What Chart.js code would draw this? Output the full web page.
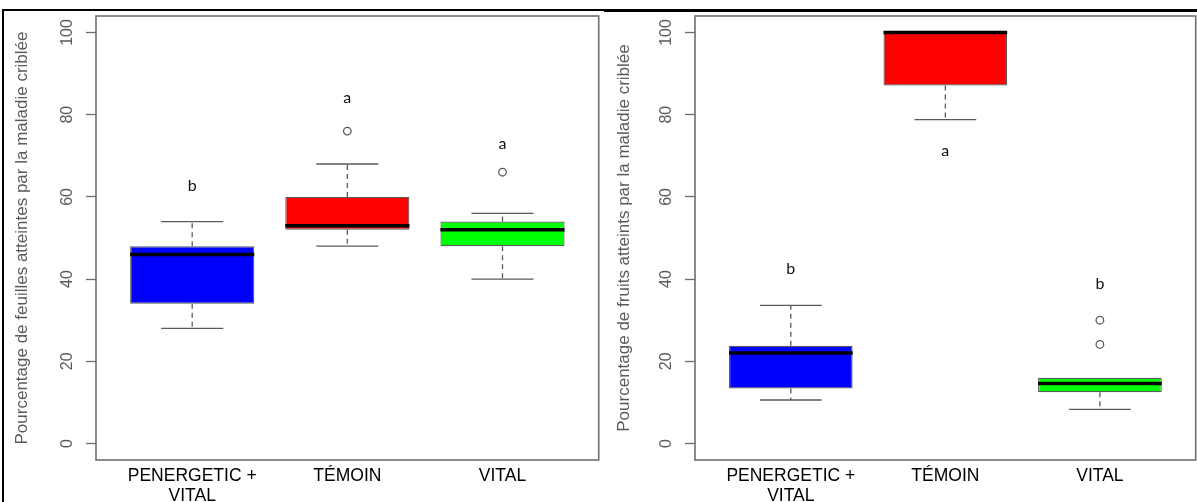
<!DOCTYPE html>
<html lang="fr">
<head>
<meta charset="utf-8">
<title>Maladie criblée – feuilles et fruits</title>
<script src="https://cdn.jsdelivr.net/npm/chart.js@4/dist/chart.umd.min.js"></script>
<style>
  html, body { margin: 0; padding: 0; background: #fff; overflow: hidden; }
  body { width: 1197px; height: 502px; position: relative; }
  canvas { position: absolute; top: 0; }
  #chartFeuilles { left: 0; }
  #chartFruits { left: 604px; }
  .edge { position: absolute; background: #000; }
</style>
</head>
<body>
<canvas id="chartFeuilles" width="604" height="502"></canvas>
<canvas id="chartFruits" width="597" height="502"></canvas>
<div class="edge" style="left:2px;top:9px;width:2px;height:493px"></div>
<div class="edge" style="left:2px;top:9px;width:602px;height:2px"></div>
<div class="edge" style="left:604px;top:9px;width:593px;height:3px"></div>
<script>
'use strict';

// ── DATA ─────────────────────────────────────────────────────

const CATEGORIES = [['PENERGETIC +', 'VITAL'], 'TÉMOIN', 'VITAL'];
const BOX_COLORS = ['#0000ff', '#ff0000', '#00ff00'];
const Y_TICKS    = [0, 20, 40, 60, 80, 100];

// feuilles atteintes
const leafLow      = [28, 48, 40];
const leafQ1       = [34, 52, 48];
const leafMedian   = [46, 53, 52];
const leafQ3       = [48, 60, 54];
const leafHigh     = [54, 68, 56];
const leafOutliers = [[], [76], [66]];
const leafGroups   = ['b', 'a', 'a'];
const leafGroupY   = [62.6, 84, 73];

// fruits atteints
const fruitLow      = [10.6, 78.8, 8.3];
const fruitQ1       = [13.4, 87.1, 12.5];
const fruitMedian   = [22, 100, 14.6];
const fruitQ3       = [23.8, 100, 16];
const fruitHigh     = [33.6, 100, 16];
const fruitOutliers = [[], [], [30, 24.1]];
const fruitGroups   = ['b', 'a', 'b'];
const fruitGroupY   = [42.5, 71.3, 38.8];

// ── STYLE ────────────────────────────────────────────────────

const INK_GREY = '#5a5a5a';
const AXIS_GREY = '#6e6e6e';

Chart.defaults.font.family = '"Liberation Sans", Arial, sans-serif';
Chart.defaults.color = INK_GREY;

// ── BOXPLOT PARTS (whiskers, caps, medians, frame, letters) ──

const boxParts = {
  id: 'boxParts',
  beforeDatasetsDraw(chart, args, opts) {
    const { ctx, scales: { x, y } } = chart;
    ctx.save();
    ctx.strokeStyle = INK_GREY;
    ctx.lineWidth = 1.3;
    opts.low.forEach((lo, i) => {
      const cx = x.getPixelForValue(i + 1);
      const segs = [[opts.q3[i], opts.high[i]], [opts.q1[i], lo]];
      segs.forEach(([from, to]) => {
        if (from === to) return;
        ctx.setLineDash([5, 4]);
        ctx.beginPath();
        ctx.moveTo(cx, y.getPixelForValue(from));
        ctx.lineTo(cx, y.getPixelForValue(to));
        ctx.stroke();
        ctx.setLineDash([]);
        const cy = y.getPixelForValue(to);
        ctx.beginPath();
        ctx.moveTo(x.getPixelForValue(i + 0.8), cy);
        ctx.lineTo(x.getPixelForValue(i + 1.2), cy);
        ctx.stroke();
      });
    });
    ctx.restore();
  },
  afterDatasetsDraw(chart, args, opts) {
    const { ctx, chartArea: a, scales: { x, y } } = chart;
    ctx.save();

    // medians
    ctx.strokeStyle = '#000';
    ctx.lineWidth = 3.5;
    opts.median.forEach((m, i) => {
      const my = y.getPixelForValue(m);
      ctx.beginPath();
      ctx.moveTo(x.getPixelForValue(i + 0.6), my);
      ctx.lineTo(x.getPixelForValue(i + 1.4), my);
      ctx.stroke();
    });

    // plot frame
    ctx.strokeStyle = AXIS_GREY;
    ctx.lineWidth = 1.6;
    ctx.strokeRect(a.left, a.top, a.right - a.left, a.bottom - a.top);

    // group letters
    ctx.fillStyle = '#111';
    ctx.font = '16px Lato, "Open Sans", sans-serif';
    ctx.textAlign = 'center';
    ctx.textBaseline = 'middle';
    opts.groups.forEach((g, i) => {
      ctx.fillText(g, x.getPixelForValue(i + 1), y.getPixelForValue(opts.groupY[i]));
    });
    ctx.restore();
  }
};

// ── CHART ────────────────────────────────────────────────────

function makeBoxChart(canvasId, yTitle, s, pad) {
  const ctx = document.getElementById(canvasId);
  return new Chart(ctx, {
    type: 'bar',
    data: {
      datasets: [
        {
          type: 'bar',
          data: s.q1.map((q, i) => ({ x: i + 1, y: [q, s.q3[i]] })),
          backgroundColor: BOX_COLORS,
          borderColor: INK_GREY,
          borderWidth: 1.2,
          borderSkipped: false,
          barPercentage: 0.8,
          categoryPercentage: 1
        },
        {
          type: 'scatter',
          data: s.outliers.flatMap((list, i) => list.map(v => ({ x: i + 1, y: v }))),
          pointStyle: 'circle',
          radius: 3.8,
          borderWidth: 1.3,
          borderColor: INK_GREY,
          backgroundColor: 'rgba(255,255,255,0)'
        }
      ]
    },
    options: {
      responsive: false,
      animation: false,
      events: [],
      layout: { padding: { left: pad.left, right: pad.right, top: 16, bottom: 0 } },
      plugins: {
        legend: { display: false },
        tooltip: { enabled: false },
        boxParts: {
          low: s.low, q1: s.q1, median: s.median, q3: s.q3, high: s.high,
          groups: s.groups, groupY: s.groupY
        }
      },
      scales: {
        x: {
          type: 'linear',
          min: 0.38,
          max: 3.62,
          offset: false,
          afterBuildTicks: scale => { scale.ticks = [1, 2, 3].map(v => ({ value: v })); },
          afterFit: scale => { scale.height = 42; },
          grid: { display: false, drawTicks: false },
          border: { display: false },
          ticks: {
            autoSkip: false,
            maxRotation: 0,
            padding: 6.5,
            color: '#000',
            font: { size: 17.5, lineHeight: 1.12 },
            callback: v => CATEGORIES[v - 1]
          }
        },
        y: {
          min: -4,
          max: 104,
          afterBuildTicks: scale => { scale.ticks = Y_TICKS.map(v => ({ value: v })); },
          afterFit: scale => { scale.width = 84; },
          grid: { drawOnChartArea: false, tickLength: 10, tickColor: AXIS_GREY, tickWidth: 1.3 },
          border: { display: false },
          ticks: {
            minRotation: 90,
            maxRotation: 90,
            crossAlign: 'center',
            padding: 5,
            color: INK_GREY,
            font: { size: 16 }
          },
          title: {
            display: true,
            text: yTitle,
            color: INK_GREY,
            font: { size: 17 },
            padding: { top: pad.title, bottom: 0 }
          }
        }
      }
    },
    plugins: [boxParts]
  });
}

makeBoxChart('chartFeuilles', 'Pourcentage de feuilles atteintes par la maladie criblée', {
  low: leafLow, q1: leafQ1, median: leafMedian, q3: leafQ3, high: leafHigh,
  outliers: leafOutliers, groups: leafGroups, groupY: leafGroupY
}, { left: 12, right: 3, title: 0 });

makeBoxChart('chartFruits', 'Pourcentage de fruits atteints par la maladie criblée', {
  low: fruitLow, q1: fruitQ1, median: fruitMedian, q3: fruitQ3, high: fruitHigh,
  outliers: fruitOutliers, groups: fruitGroups, groupY: fruitGroupY
}, { left: 7, right: 2, title: 3 });
</script>
</body>
</html>
